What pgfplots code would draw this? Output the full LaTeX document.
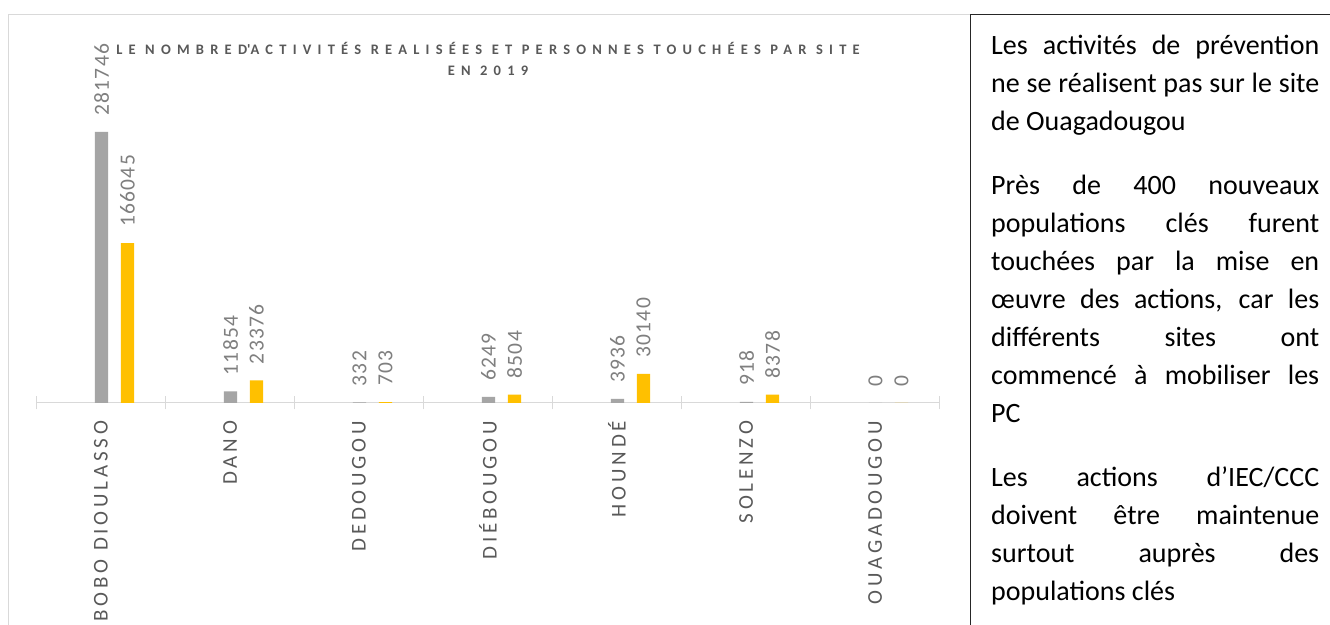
\documentclass[border=0pt]{standalone}
\usepackage{fontspec}
\setmainfont{Carlito}
\usepackage{pgfplots}
\pgfplotsset{compat=1.18}
\newfontfamily\catfont[LetterSpace=18]{Carlito}
\newfontfamily\titlefont[LetterSpace=43]{Carlito}
\newfontfamily\numfont[LetterSpace=6]{Carlito}
\definecolor{barGray}{HTML}{A5A5A5}
\definecolor{barGold}{HTML}{FFC000}
\definecolor{axGray}{HTML}{D9D9D9}
\definecolor{txtGray}{HTML}{595959}
\definecolor{lblGray}{HTML}{7F7F7F}
\begin{document}
\begin{tikzpicture}[x=1pt,y=1pt]
\useasboundingbox (0,0) rectangle (1330,624);
\fill[white] (0,0) rectangle (1330,624);
\draw[axGray, line width=1pt] (8,-5) -- (8,609) -- (970,609);
\begin{axis}[
 at={(28.3,230)}, anchor=south west,
 scale only axis, width=903pt, height=271pt,
 xmin=-0.5, xmax=6.5, ymin=0, ymax=281746,
 axis x line*=bottom, axis y line=none,
 x axis line style={axGray, line width=1.3pt, -},
 xtick={0,...,6},
 xticklabels={BOBO DIOULASSO, DANO, DEDOUGOU, DIÉBOUGOU, HOUNDÉ, SOLENZO, OUAGADOUGOU},
 major tick length=0pt,
 extra x ticks={-0.5,0.5,...,6.5},
 extra x tick labels={},
 extra x tick style={major tick length=13pt, tick align=center, tick style={axGray, line width=1.3pt}},
 xticklabel style={rotate=90, anchor=east, inner sep=0pt, font=\catfont\fontsize{21}{21}\selectfont, text=txtGray},
 xticklabel shift=18pt,
 ybar, bar width=13.3pt,
 point meta=explicit symbolic,
 nodes near coords={\pgfplotspointmeta},
 every node near coord/.append style={rotate=90, anchor=west, inner xsep=16pt, inner ysep=0pt, font=\numfont\fontsize{21.5}{21.5}\selectfont, text=lblGray},
 clip=false,
]
\addplot[fill=barGray, draw=none, bar shift=0.5pt] coordinates {(0,281746)[281746] (1,11854)[11854] (2,332)[332] (3,6249)[6249] (4,3936)[3936] (5,918)[918] (6,0)[0]};
\addplot[fill=barGold, draw=none, bar shift=26.5pt] coordinates {(0,166045)[166045] (1,23376)[23376] (2,703)[703] (3,8504)[8504] (4,30140)[30140] (5,8378)[8378] (6,0)[0]};
\end{axis}
\node[font=\titlefont\bfseries\fontsize{14.5}{14.5}\selectfont, text=txtGray] at (488,576) {LE NOMBRED\textquotesingle ACTIVITÉS REALISÉES ET PERSONNES TOUCHÉES PAR SITE};
\node[font=\titlefont\bfseries\fontsize{14.5}{14.5}\selectfont, text=txtGray] at (488,553) {EN 2019};
\draw[black!85, line width=1pt] (970,-5) -- (970,609) -- (1340,609);
\node[anchor=north west, inner sep=0pt, text width=328pt, align=justify, font=\fontsize{28}{38}\selectfont] at (991,589) {%
\setlength{\parskip}{26pt}\setlength{\parindent}{0pt}\hyphenpenalty=10000 \tolerance=10000
Les activités de prévention\linebreak ne se réalisent pas sur le site\linebreak de Ouagadougou\par
Près de 400 nouveaux\linebreak populations clés furent\linebreak touchées par la mise en\linebreak œuvre des actions, car les\linebreak différents sites ont\linebreak commencé à mobiliser les\linebreak PC\par
Les actions d’IEC/CCC\linebreak doivent être maintenue\linebreak surtout auprès des\linebreak populations clés\par}; 
\end{tikzpicture}
\end{document}
